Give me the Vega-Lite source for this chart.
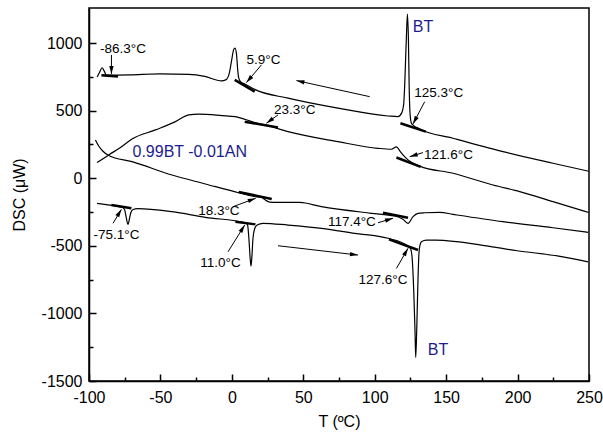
{
  "$schema": "https://vega.github.io/schema/vega-lite/v6.json",
  "width": 500,
  "height": 373,
  "autosize": "none",
  "padding": {"left": 89, "top": 8, "right": 14, "bottom": 53},
  "background": "white",
  "config": {
    "view": {"stroke": "black", "strokeWidth": 1.5},
    "font": "Liberation Sans",
    "axis": {
      "grid": false,
      "domainColor": "black",
      "domainWidth": 1.5,
      "tickColor": "black",
      "tickWidth": 1.5,
      "labelColor": "black",
      "labelFont": "Liberation Sans",
      "labelFontSize": 16,
      "labelFlush": false,
      "labelOverlap": false,
      "titleFont": "Liberation Sans",
      "titleFontSize": 16,
      "titleFontWeight": "normal",
      "titleColor": "black"
    }
  },
  "resolve": {"axis": {"x": "independent", "y": "independent"}},
  "encoding": {
    "x": {"field": "T", "type": "quantitative", "scale": {"domain": [-100, 250], "nice": false, "zero": false}, "axis": null},
    "y": {"field": "DSC", "type": "quantitative", "scale": {"domain": [-1500, 1260], "nice": false, "zero": false}, "axis": null}
  },
  "layer": [
    {
      "data": {"values": [
        {"s":"a","T":-94.3,"DSC":750},{"s":"a","T":-92.5,"DSC":787},{"s":"a","T":-90.8,"DSC":818},{"s":"a","T":-89.4,"DSC":795},{"s":"a","T":-87.8,"DSC":763},{"s":"a","T":-71.5,"DSC":765},{"s":"a","T":-50.5,"DSC":772},{"s":"a","T":-30.2,"DSC":769},{"s":"a","T":-19,"DSC":754},{"s":"a","T":-7.3,"DSC":721},{"s":"a","T":-4.3,"DSC":728},{"s":"a","T":-1.9,"DSC":773},{"s":"a","T":-0.1,"DSC":876},{"s":"a","T":1.2,"DSC":950},{"s":"a","T":2.2,"DSC":963},{"s":"a","T":3.3,"DSC":913},{"s":"a","T":4.1,"DSC":802},{"s":"a","T":4.8,"DSC":743},{"s":"a","T":6.2,"DSC":713},{"s":"a","T":9,"DSC":698},{"s":"a","T":16.7,"DSC":654},{"s":"a","T":39.3,"DSC":593},{"s":"a","T":74.3,"DSC":519},{"s":"a","T":109.3,"DSC":461},{"s":"a","T":116.3,"DSC":456},{"s":"a","T":118.9,"DSC":484},{"s":"a","T":120.3,"DSC":550},{"s":"a","T":121,"DSC":691},{"s":"a","T":122.1,"DSC":1024},{"s":"a","T":122.9,"DSC":1215},{"s":"a","T":123.6,"DSC":1024},{"s":"a","T":124.1,"DSC":691},{"s":"a","T":124.8,"DSC":469},{"s":"a","T":125.9,"DSC":402},{"s":"a","T":131.5,"DSC":365},{"s":"a","T":154.8,"DSC":296},{"s":"a","T":189.8,"DSC":197},{"s":"a","T":224.8,"DSC":111},{"s":"a","T":249.8,"DSC":52},
        {"s":"b","T":-94.4,"DSC":116},{"s":"b","T":-86.2,"DSC":173},{"s":"b","T":-78.5,"DSC":224},{"s":"b","T":-69.9,"DSC":291},{"s":"b","T":-53.5,"DSC":358},{"s":"b","T":-39.5,"DSC":419},{"s":"b","T":-30.2,"DSC":469},{"s":"b","T":-23.2,"DSC":474},{"s":"b","T":-6.9,"DSC":464},{"s":"b","T":2.5,"DSC":456},{"s":"b","T":9.5,"DSC":435},{"s":"b","T":16,"DSC":413},{"s":"b","T":24.2,"DSC":393},{"s":"b","T":39.3,"DSC":345},{"s":"b","T":74.3,"DSC":271},{"s":"b","T":102.3,"DSC":222},{"s":"b","T":111.7,"DSC":215},{"s":"b","T":115.2,"DSC":232},{"s":"b","T":117.8,"DSC":200},{"s":"b","T":119.8,"DSC":173},{"s":"b","T":123.3,"DSC":136},{"s":"b","T":131.5,"DSC":90},{"s":"b","T":154.8,"DSC":37},{"s":"b","T":182.8,"DSC":-50},{"s":"b","T":201.5,"DSC":-99},{"s":"b","T":224.8,"DSC":-173},{"s":"b","T":249.8,"DSC":-253},
        {"s":"c","T":-95.5,"DSC":284},{"s":"c","T":-93.2,"DSC":239},{"s":"c","T":-90.4,"DSC":202},{"s":"c","T":-86.2,"DSC":169},{"s":"c","T":-69.9,"DSC":123},{"s":"c","T":-41.9,"DSC":24},{"s":"c","T":-18.5,"DSC":-42},{"s":"c","T":4.8,"DSC":-107},{"s":"c","T":16.5,"DSC":-136},{"s":"c","T":20.9,"DSC":-142},{"s":"c","T":23.7,"DSC":-163},{"s":"c","T":26.5,"DSC":-176},{"s":"c","T":31.2,"DSC":-178},{"s":"c","T":47.5,"DSC":-179},{"s":"c","T":62.7,"DSC":-210},{"s":"c","T":97.7,"DSC":-259},{"s":"c","T":114,"DSC":-279},{"s":"c","T":119.8,"DSC":-304},{"s":"c","T":123.3,"DSC":-333},{"s":"c","T":126.8,"DSC":-284},{"s":"c","T":130.3,"DSC":-259},{"s":"c","T":135,"DSC":-255},{"s":"c","T":145.5,"DSC":-252},{"s":"c","T":154.8,"DSC":-267},{"s":"c","T":189.8,"DSC":-321},{"s":"c","T":224.8,"DSC":-366},{"s":"c","T":249.4,"DSC":-400},
        {"s":"d","T":-94.4,"DSC":-185},{"s":"d","T":-81.5,"DSC":-205},{"s":"d","T":-76.4,"DSC":-216},{"s":"d","T":-75,"DSC":-235},{"s":"d","T":-74,"DSC":-287},{"s":"d","T":-72.7,"DSC":-341},{"s":"d","T":-71.7,"DSC":-301},{"s":"d","T":-70.8,"DSC":-257},{"s":"d","T":-69.1,"DSC":-231},{"s":"d","T":-65.9,"DSC":-224},{"s":"d","T":-41.9,"DSC":-247},{"s":"d","T":-18.5,"DSC":-289},{"s":"d","T":9.5,"DSC":-329},{"s":"d","T":11,"DSC":-346},{"s":"d","T":12,"DSC":-457},{"s":"d","T":12.8,"DSC":-590},{"s":"d","T":13.4,"DSC":-650},{"s":"d","T":14.1,"DSC":-568},{"s":"d","T":14.8,"DSC":-442},{"s":"d","T":16,"DSC":-372},{"s":"d","T":17.7,"DSC":-346},{"s":"d","T":21.8,"DSC":-333},{"s":"d","T":39.3,"DSC":-346},{"s":"d","T":62.7,"DSC":-370},{"s":"d","T":86,"DSC":-407},{"s":"d","T":109.3,"DSC":-444},{"s":"d","T":123.3,"DSC":-501},{"s":"d","T":125.2,"DSC":-524},{"s":"d","T":126.2,"DSC":-590},{"s":"d","T":127.3,"DSC":-827},{"s":"d","T":128.2,"DSC":-1124},{"s":"d","T":128.7,"DSC":-1326},{"s":"d","T":129.4,"DSC":-1124},{"s":"d","T":130.1,"DSC":-827},{"s":"d","T":130.9,"DSC":-568},{"s":"d","T":131.7,"DSC":-494},{"s":"d","T":132.9,"DSC":-468},{"s":"d","T":136.2,"DSC":-457},{"s":"d","T":142.5,"DSC":-457},{"s":"d","T":182.2,"DSC":-507},{"s":"d","T":199.7,"DSC":-536},{"s":"d","T":228.8,"DSC":-576},{"s":"d","T":249.3,"DSC":-618}
      ]},
      "mark": {"type": "line", "color": "black", "strokeWidth": 1.2, "interpolate": "monotone"},
      "encoding": {
        "detail": {"field": "s"},
        "x": {
          "field": "T", "type": "quantitative",
          "scale": {"domain": [-100, 250], "nice": false, "zero": false},
          "axis": {
            "orient": "bottom",
            "title": "T (ºC)",
            "values": [-100, -50, 0, 50, 100, 150, 200, 250],
            "labelExpr": "'' + datum.value",
            "tickSize": -7,
            "labelPadding": 15,
            "titlePadding": 8
          }
        },
        "y": {
          "field": "DSC", "type": "quantitative",
          "scale": {"domain": [-1500, 1260], "nice": false, "zero": false},
          "axis": {
            "orient": "left",
            "title": "DSC (μW)",
            "values": [-1500, -1000, -500, 0, 500, 1000],
            "labelExpr": "'' + datum.value",
            "tickSize": -7,
            "labelPadding": 14,
            "titlePadding": 14
          }
        }
      }
    },
    {
      "data": {"values": [
        {"T":-91.3,"DSC":763,"T2":-79.7,"DSC2":753},
        {"T":2,"DSC":728,"T2":16,"DSC2":641},
        {"T":9,"DSC":419,"T2":32.3,"DSC2":375},
        {"T":118,"DSC":407,"T2":135.7,"DSC2":345},
        {"T":115.2,"DSC":154,"T2":132.2,"DSC2":84},
        {"T":4.8,"DSC":-101,"T2":27.9,"DSC2":-153},
        {"T":105.8,"DSC":-255,"T2":123.3,"DSC2":-292},
        {"T":-84.3,"DSC":-198,"T2":-70.3,"DSC2":-222},
        {"T":2.5,"DSC":-321,"T2":16.5,"DSC2":-341},
        {"T":110,"DSC":-452,"T2":130.3,"DSC2":-531}
      ]},
      "mark": {"type": "rule", "color": "black", "strokeWidth": 2.5},
      "encoding": {
        "x": {
          "field": "T", "type": "quantitative",
          "scale": {"domain": [-100, 250], "nice": false, "zero": false},
          "axis": {"orient": "bottom", "values": [-75, -25, 25, 75, 125, 175, 225], "tickSize": -4, "labels": false, "domain": false, "title": null}
        },
        "y": {
          "field": "DSC", "type": "quantitative",
          "scale": {"domain": [-1500, 1260], "nice": false, "zero": false},
          "axis": {"orient": "left", "values": [-1250, -750, -250, 250, 750], "tickSize": -4, "labels": false, "domain": false, "title": null}
        },
        "x2": {"field": "T2"}, "y2": {"field": "DSC2"}
      }
    },
    {
      "data": {"values": [
        {"T":-84.3,"DSC":772,"T2":-84.3,"DSC2":913},
        {"T":10.2,"DSC":708,"T2":20.7,"DSC2":839},
        {"T":24.2,"DSC":407,"T2":32.3,"DSC2":469},
        {"T":126.8,"DSC":402,"T2":135,"DSC2":567},
        {"T":124.5,"DSC":160,"T2":133.8,"DSC2":190},
        {"T":16.7,"DSC":-148,"T2":0.8,"DSC2":-210},
        {"T":112.8,"DSC":-296,"T2":102.3,"DSC2":-329},
        {"T":-77.3,"DSC":-230,"T2":-83.2,"DSC2":-333},
        {"T":9,"DSC":-346,"T2":-2.7,"DSC2":-544},
        {"T":123.3,"DSC":-518,"T2":115.2,"DSC2":-667},
        {"T":45.2,"DSC":723,"T2":96.5,"DSC2":604},
        {"T":88.3,"DSC":-568,"T2":32.3,"DSC2":-499}
      ]},
      "layer": [
        {
          "mark": {"type": "rule", "color": "black", "strokeWidth": 1},
          "encoding": {"x2": {"field": "T2"}, "y2": {"field": "DSC2"}}
        },
        {
          "transform": [{"calculate": "atan2((datum.T - datum.T2) * 1.4286, (datum.DSC - datum.DSC2) * 0.135) * 180 / PI", "as": "ang"}],
          "mark": {"type": "point", "shape": "M0,0L-0.55,2L0.55,2Z", "filled": true, "color": "black", "size": 64, "opacity": 1},
          "encoding": {"angle": {"field": "ang", "type": "quantitative", "scale": null}}
        }
      ]
    },
    {
      "data": {"values": [
        {"T":-76.2,"DSC":955,"label":"-86.3°C"},
        {"T":22.1,"DSC":876,"label":"5.9°C"},
        {"T":44,"DSC":506,"label":"23.3°C"},
        {"T":144.8,"DSC":630,"label":"125.3°C"},
        {"T":151.6,"DSC":173,"label":"121.6°C"},
        {"T":-9.1,"DSC":-240,"label":"18.3°C"},
        {"T":84,"DSC":-321,"label":"117.4°C"},
        {"T":-80.8,"DSC":-420,"label":"-75.1°C"},
        {"T":-8,"DSC":-630,"label":"11.0°C"},
        {"T":105.8,"DSC":-753,"label":"127.6°C"}
      ]},
      "mark": {"type": "text", "font": "Liberation Sans", "fontSize": 13.5, "color": "black", "align": "center", "baseline": "middle"},
      "encoding": {"text": {"field": "label"}}
    },
    {
      "data": {"values": [
        {"T":133.8,"DSC":1123,"label":"BT"},
        {"T":144.3,"DSC":-1272,"label":"BT"},
        {"T":-29.5,"DSC":197,"label":"0.99BT -0.01AN"}
      ]},
      "mark": {"type": "text", "font": "Liberation Sans", "fontSize": 16, "color": "#1c1c8c", "align": "center", "baseline": "middle"},
      "encoding": {"text": {"field": "label"}}
    }
  ]
}
